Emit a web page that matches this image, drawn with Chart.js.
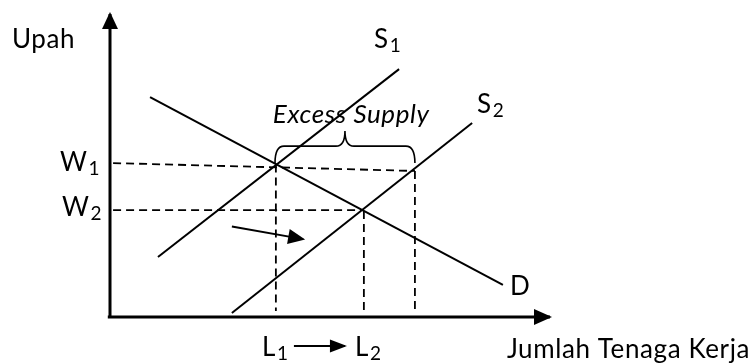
<!DOCTYPE html>
<html><head><meta charset="utf-8">
<script src="https://cdn.jsdelivr.net/npm/chart.js@4/dist/chart.umd.min.js"></script>
<style>html,body{margin:0;padding:0;background:#fff;overflow:hidden}canvas{display:block}</style>
</head><body>
<canvas id="c" width="752" height="363"></canvas>
<script>
// ---- Data (abstract units: x = jumlah tenaga kerja, y = upah) ----
const demandD    = [{x:0.91,y:7.26},{x:8.93,y:1.06}];
const supplyS1   = [{x:1.09,y:1.98},{x:6.57,y:8.18}];
const supplyS2   = [{x:2.77,y:0.13},{x:8.23,y:6.40}];
const levelW1    = [{x:0.07,y:5.08},{x:6.93,y:4.82}];
const levelW2    = [{x:0.07,y:3.53},{x:5.77,y:3.53}];
const dropL1     = [{x:3.77,y:5.03},{x:3.77,y:0.20}];
const dropL2     = [{x:5.77,y:3.50},{x:5.77,y:0.17}];
const dropExcess = [{x:6.93,y:4.82},{x:6.93,y:0.17}];
const shiftArrow = [{x:2.77,y:2.99},{x:4.39,y:2.57}];
const moveArrowL = [{x:4.18,y:-0.96},{x:5.34,y:-0.96}];
const axisY      = [{x:0,y:-0.03},{x:0,y:10}];
const axisX      = [{x:-0.05,y:0},{x:10,y:0}];
const braceX     = [3.75, 5.34, 6.93];   // left, peak, right
const braceY     = [5.08, 5.64, 6.14];   // ends, shoulder, peak
const labelText  = ['Upah','S','S','W','W','L','L','D','Jumlah Tenaga Kerja','Excess Supply'];
const labelSub   = ['','1','2','1','2','1','2','','',''];
const labelX     = [-2.227, 6.00, 8.34, -1.136, -1.09, 3.455, 5.568, 9.09, 9.02, 3.70];
const labelY     = [8.878, 8.878, 6.73, 4.82, 3.33, -1.287, -1.287, 0.726, -1.353, 6.40];

const FONT = 'Lato, "Open Sans", sans-serif';
const solid = (d, w) => ({data:d, showLine:true, borderColor:'#000', borderWidth:w||2, pointRadius:0, fill:false, tension:0, clip:false});
const dashed = d => Object.assign(solid(d,1.8), {borderDash:[8,5]});

const datasets = [
  Object.assign(solid(axisY,3), {arrowHead:{len:15,wid:16}}),
  Object.assign(solid(axisX,3), {arrowHead:{len:16,wid:16}}),
  solid(demandD), solid(supplyS1), solid(supplyS2),
  dashed(levelW1), dashed(levelW2), dashed(dropL1), dashed(dropL2), dashed(dropExcess),
  Object.assign(solid(shiftArrow,2), {arrowHead:{len:15,wid:15}}),
  Object.assign(solid(moveArrowL,2), {arrowHead:{len:15,wid:13}})
];

const extras = {
  id:'extras',
  afterDatasetsDraw(chart){
    const ctx = chart.ctx, xs = chart.scales.x, ys = chart.scales.y;
    const px = v => xs.getPixelForValue(v), py = v => ys.getPixelForValue(v);
    ctx.save();
    // arrowheads
    chart.data.datasets.forEach(ds => {
      if (!ds.arrowHead) return;
      const n = ds.data.length, a = ds.data[n-2], b = ds.data[n-1];
      const x1 = px(a.x), y1 = py(a.y), x2 = px(b.x), y2 = py(b.y);
      const ang = Math.atan2(y2-y1, x2-x1), L = ds.arrowHead.len, W = ds.arrowHead.wid/2;
      ctx.fillStyle = '#000';
      ctx.beginPath();
      ctx.moveTo(x2 + Math.cos(ang)*2, y2 + Math.sin(ang)*2);
      ctx.lineTo(x2 - Math.cos(ang)*L - Math.sin(ang)*W, y2 - Math.sin(ang)*L + Math.cos(ang)*W);
      ctx.lineTo(x2 - Math.cos(ang)*L + Math.sin(ang)*W, y2 - Math.sin(ang)*L - Math.cos(ang)*W);
      ctx.closePath(); ctx.fill();
    });
    // brace
    const xl = px(braceX[0]), xm = px(braceX[1]), xr = px(braceX[2]);
    const yb = py(braceY[0]), yh = py(braceY[1]), yp = py(braceY[2]);
    const r = 9;
    ctx.strokeStyle = '#000'; ctx.lineWidth = 1.6;
    ctx.beginPath();
    ctx.moveTo(xl, yb);
    ctx.quadraticCurveTo(xl, yh, xl + r, yh);
    ctx.lineTo(xm - r, yh);
    ctx.quadraticCurveTo(xm, yh, xm, yp);
    ctx.quadraticCurveTo(xm, yh, xm + r, yh);
    ctx.lineTo(xr - r, yh);
    ctx.quadraticCurveTo(xr, yh, xr, yb);
    ctx.stroke();
    // labels
    ctx.fillStyle = '#000'; ctx.textBaseline = 'alphabetic'; ctx.textAlign = 'left';
    labelText.forEach((t, i) => {
      const italic = t === 'Excess Supply';
      ctx.font = (italic ? 'italic ' : '') + '26px ' + FONT;
      ctx.letterSpacing = '0.6px';
      const x = px(labelX[i]), y = py(labelY[i]);
      ctx.fillText(t, x, y);
      if (labelSub[i]) {
        const w = ctx.measureText(t).width;
        ctx.font = '19px ' + FONT;
        ctx.letterSpacing = '0px';
        ctx.fillText(labelSub[i], x + w + 1, y + 4);
      }
    });
    ctx.restore();
  }
};

new Chart(document.getElementById('c'), {
  type:'scatter',
  data:{datasets},
  options:{
    responsive:false, animation:false, devicePixelRatio:1,
    layout:{padding:0},
    plugins:{legend:{display:false}, tooltip:{enabled:false}},
    scales:{
      x:{type:'linear', display:false, min:-2.5, max:14.5909},
      y:{type:'linear', display:false, min:-1.518, max:10.462}
    }
  },
  plugins:[extras]
});
</script>
</body></html>
